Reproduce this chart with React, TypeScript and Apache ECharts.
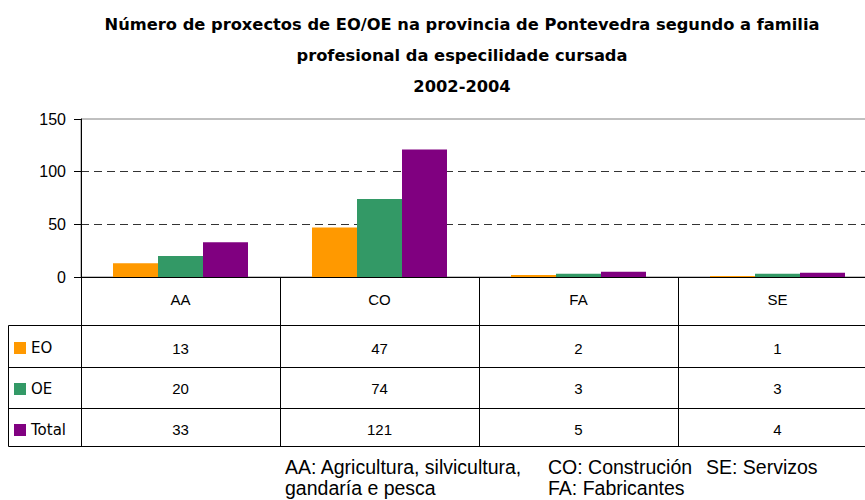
import React, { useEffect, useRef } from 'react';
import * as echarts from 'echarts';

const categories = ['AA', 'CO', 'FA', 'SE'];
const seriesNames = ['EO', 'OE', 'Total'];
const eoValues = [13, 47, 2, 1];
const oeValues = [20, 74, 3, 3];
const totalValues = [33, 121, 5, 4];
const yMin = 0;
const yMax = 150;
const yInterval = 50;
const titleLines = [
  'Número de proxectos de EO/OE na provincia de Pontevedra segundo a familia',
  'profesional da especilidade cursada',
  '2002-2004',
];
const footnoteTexts = [
  'AA: Agricultura, silvicultura,',
  'gandaría e pesca',
  'CO: Construción',
  'FA: Fabricantes',
  'SE: Servizos',
];

const colors = ['#FF9900', '#339966', '#800080'];
const SANS = '"Liberation Sans", Arial, sans-serif';

export default function App() {
  const ref = useRef<HTMLDivElement>(null);
  useEffect(() => {
    if (!ref.current) return;
    const chart = echarts.init(ref.current, null, { renderer: 'svg' });

    const gridLeft = 81;
    const gridTop = 119;
    const gridHeight = 158;
    const gridWidth = 796;
    const axisY = gridTop + gridHeight;
    const tableLeft = 8.5;
    const tableRight = 865;
    const rowLines = [325.5, 367.5, 408.5, 446.5];
    const titleY = [24, 55, 86];
    const footPos = [
      [285, 467],
      [285, 488],
      [548, 467],
      [548, 488],
      [706, 467],
    ];

    const rows = [eoValues, oeValues, totalValues];
    const rowOffsets = [49, 89, 130];

    const graphics: any[] = [];
    titleLines.forEach((t, i) => {
      graphics.push({
        type: 'text',
        x: 462,
        y: titleY[i],
        style: {
          text: t,
          fill: '#000',
          font: 'bold 16.3px "DejaVu Sans", Verdana, sans-serif',
          textAlign: 'center',
          textVerticalAlign: 'middle',
        },
      });
    });
    rowLines.forEach((y) => {
      graphics.push({
        type: 'line',
        shape: { x1: tableLeft, y1: y, x2: tableRight, y2: y },
        style: { stroke: '#000', lineWidth: 1 },
      });
    });
    graphics.push({
      type: 'line',
      shape: { x1: tableLeft, y1: rowLines[0], x2: tableLeft, y2: rowLines[rowLines.length - 1] },
      style: { stroke: '#000', lineWidth: 1 },
    });
    footnoteTexts.forEach((t, i) => {
      graphics.push({
        type: 'text',
        x: footPos[i][0],
        y: footPos[i][1],
        style: {
          text: t,
          fill: '#000',
          font: '19.5px "Liberation Sans", Arial, sans-serif',
          textVerticalAlign: 'middle',
        },
      });
    });

    const xAxes: any[] = [
      {
        type: 'category',
        data: categories,
        position: 'bottom',
        axisLine: { show: true, lineStyle: { color: '#000', width: 1 } },
        axisTick: { show: true, alignWithLabel: false, length: rowLines[3] - axisY, lineStyle: { color: '#000' } },
        axisLabel: { color: '#000', fontSize: 15, fontFamily: SANS, margin: 15 },
        splitLine: { show: false },
      },
    ];
    rows.forEach((r, i) => {
      xAxes.push({
        type: 'category',
        data: r.map(String),
        position: 'bottom',
        offset: rowOffsets[i],
        axisLine: { show: false },
        axisTick: { show: false },
        axisLabel: { color: '#000', fontSize: 15, fontFamily: SANS, margin: 15 },
        splitLine: { show: false },
      });
    });

    chart.setOption({
      animation: false,
      color: colors,
      grid: {
        left: gridLeft,
        top: gridTop,
        width: gridWidth,
        height: gridHeight,
        outerBoundsMode: 'none',
        containLabel: false,
        show: true,
        borderColor: '#808080',
        borderWidth: 1,
        backgroundColor: 'transparent',
      },
      legend: {
        orient: 'vertical',
        left: 14,
        top: 340.5,
        padding: 0,
        itemWidth: 12,
        itemHeight: 12,
        itemGap: 26,
        icon: 'rect',
        textStyle: { color: '#000', fontSize: 15, fontFamily: '"DejaVu Sans", Verdana, sans-serif' },
        data: seriesNames,
      },
      xAxis: xAxes,
      yAxis: {
        type: 'value',
        min: yMin,
        max: yMax,
        interval: yInterval,
        axisLine: { show: true, lineStyle: { color: '#000' } },
        axisTick: { show: true, length: 7, lineStyle: { color: '#000' } },
        axisLabel: { color: '#000', fontSize: 16, fontFamily: SANS, margin: 15 },
        splitLine: {
          show: true,
          showMinLine: false,
          showMaxLine: false,
          lineStyle: { color: '#333', type: [8, 5], width: 1 },
        },
      },
      series: [eoValues, oeValues, totalValues].map((d, i) => ({
        name: seriesNames[i],
        type: 'bar',
        data: d,
        barWidth: 45,
        barGap: '0%',
        xAxisIndex: 0,
        itemStyle: { color: colors[i] },
      })),
      graphic: graphics,
    });
    return () => chart.dispose();
  }, []);
  return <div ref={ref} style={{ position: 'absolute', left: 0, top: 0, width: 865, height: 500 }} />;
}
